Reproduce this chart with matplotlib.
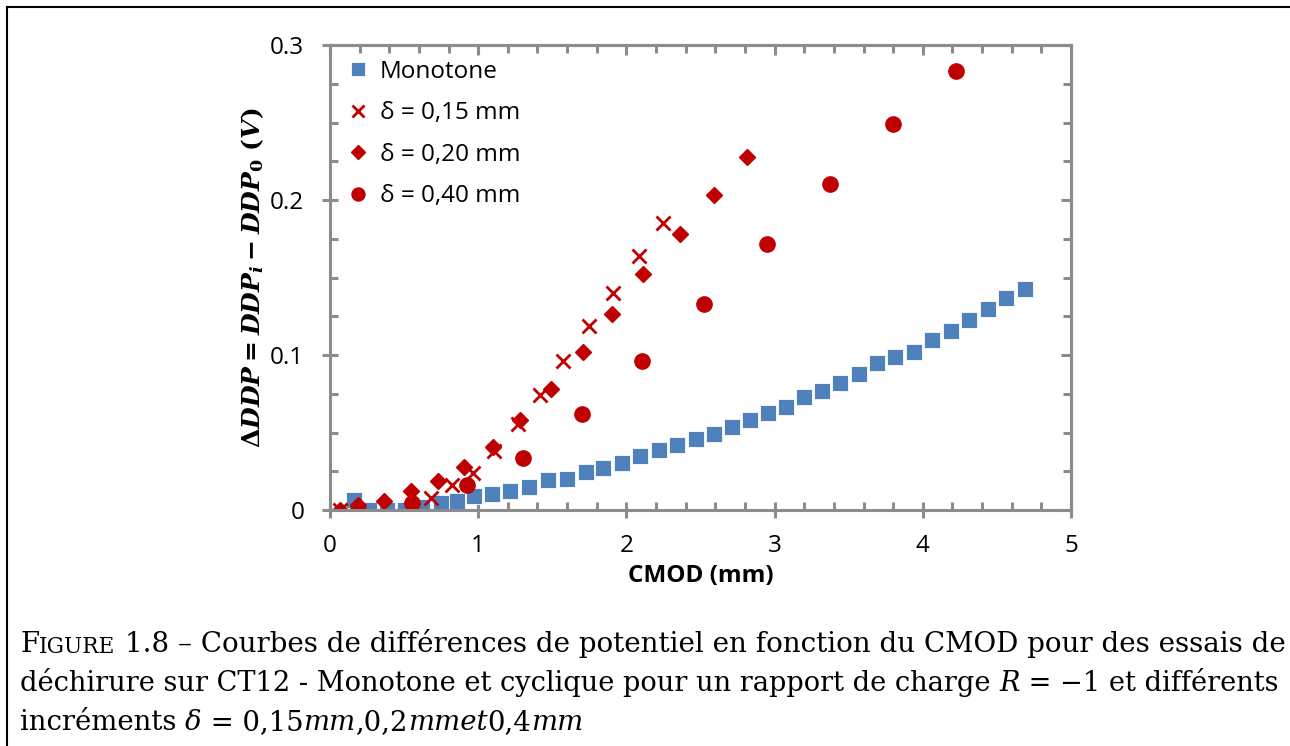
import matplotlib
matplotlib.use("Agg")
import matplotlib.pyplot as plt
from matplotlib.lines import Line2D
from matplotlib.ticker import MultipleLocator, FuncFormatter

# data (CMOD in mm, delta DDP in V)
mono_x = [0.164, 0.265, 0.387, 0.506, 0.623, 0.747, 0.855, 0.974, 1.093, 1.215,
          1.34, 1.473, 1.597, 1.725, 1.84, 1.968, 2.092, 2.218, 2.344, 2.468,
          2.591, 2.713, 2.834, 2.953, 3.075, 3.196, 3.318, 3.441, 3.57, 3.693,
          3.815, 3.938, 4.064, 4.188, 4.314, 4.438, 4.564, 4.69]
mono_y = [0.0065, 0.0, 0.0, 0.0, 0.002, 0.0043, 0.0058, 0.009, 0.0103, 0.012,
          0.015, 0.0194, 0.0202, 0.0247, 0.0269, 0.0305, 0.035, 0.0387, 0.042, 0.0456,
          0.0488, 0.0533, 0.058, 0.0624, 0.0667, 0.0727, 0.077, 0.0821, 0.0877, 0.0946,
          0.0989, 0.1021, 0.1097, 0.1155, 0.1226, 0.1299, 0.1366, 0.1424]

d15_x = [0.07, 0.544, 0.682, 0.821, 0.963, 1.107, 1.266, 1.417, 1.575, 1.745, 1.907, 2.085, 2.245]
d15_y = [0.0, 0.0005, 0.0075, 0.016, 0.0237, 0.0383, 0.0555, 0.0742, 0.0961, 0.1189, 0.1402, 0.1639, 0.1854]

d20_x = [0.07, 0.19, 0.364, 0.547, 0.731, 0.907, 1.098, 1.282, 1.491, 1.705, 1.905, 2.11, 2.362, 2.591, 2.816]
d20_y = [0.0, 0.003, 0.006, 0.0122, 0.0185, 0.0275, 0.0409, 0.058, 0.078, 0.1017, 0.1265, 0.152, 0.178, 0.2032, 0.228]

d40_x = [0.189, 0.551, 0.922, 1.305, 1.698, 2.105, 2.524, 2.946, 3.374, 3.797, 4.222]
d40_y = [0.0003, 0.0043, 0.016, 0.0333, 0.062, 0.0961, 0.1327, 0.1714, 0.2101, 0.249, 0.2834]

labels = ["Monotone", "δ = 0,15 mm", "δ = 0,20 mm", "δ = 0,40 mm"]

BLUE = "#4F81BD"
RED = "#C00000"
GREY = "#8C8C8C"

plt.rcParams["font.family"] = ["Open Sans", "DejaVu Sans"]
plt.rcParams["mathtext.fontset"] = "custom"
plt.rcParams["mathtext.rm"] = "DejaVu Serif:bold"
plt.rcParams["mathtext.it"] = "DejaVu Serif:bold:italic"
plt.rcParams["mathtext.bf"] = "DejaVu Serif:bold"

fig = plt.figure(figsize=(12.9, 7.46), dpi=100)
ax = fig.add_axes([330 / 1290, 1 - 510 / 746, 741 / 1290, 465 / 746])

ax.plot(mono_x, mono_y, ls="none", marker="s", ms=12, color=BLUE, mec="white", mew=0.6, label=labels[0])
ax.plot(d15_x, d15_y, ls="none", marker="x", ms=10, mew=2, color=RED, label=labels[1])
ax.plot(d20_x, d20_y, ls="none", marker="D", ms=8.5, color=RED, label=labels[2])
ax.plot(d40_x, d40_y, ls="none", marker="o", ms=11, color=RED, label=labels[3])

ax.set_xlim(0, 5)
ax.set_ylim(0, 0.3)
ax.xaxis.set_major_locator(MultipleLocator(1))
ax.xaxis.set_minor_locator(MultipleLocator(0.2))
ax.yaxis.set_major_locator(MultipleLocator(0.1))
ax.yaxis.set_minor_locator(MultipleLocator(0.025))
ax.yaxis.set_major_formatter(FuncFormatter(lambda v, p: "0" if abs(v) < 1e-9 else "%.1f" % v))
ax.xaxis.set_major_formatter(FuncFormatter(lambda v, p: "%d" % round(v)))

for s in ax.spines.values():
    s.set_color(GREY)
    s.set_linewidth(2.2)
ax.tick_params(which="major", direction="inout", length=11, width=2.2, color=GREY,
               labelsize=17.5)
ax.tick_params(axis="x", which="major", pad=12)
ax.tick_params(axis="y", which="major", pad=13)
ax.tick_params(which="minor", direction="in", length=6, width=2.2, color=GREY)

# top/right: inward ticks only
for side in ("top", "right"):
    sec = ax.secondary_xaxis("top") if side == "top" else ax.secondary_yaxis("right")
    axis = sec.xaxis if side == "top" else sec.yaxis
    axis.set_major_locator(MultipleLocator(1 if side == "top" else 0.1))
    axis.set_minor_locator(MultipleLocator(0.2 if side == "top" else 0.025))
    sec.tick_params(which="both", direction="in", length=6, width=2.2, color=GREY, labelsize=0)
    sec.tick_params(which="major", length=7)
    axis.set_ticklabels([])
    sec.spines[side].set_color(GREY)
    sec.spines[side].set_linewidth(2.2)

ax.set_xlabel("CMOD (mm)", fontsize=17.5, fontweight="bold", labelpad=4)
ax.set_ylabel(r"$\Delta DDP = DDP_i - DDP_0\ (V)$", fontsize=18, labelpad=3)

leg = ax.legend(loc="upper left", fontsize=17.5, frameon=False, handletextpad=0.35,
                labelspacing=0.72, borderaxespad=0.2, handlelength=1.1, markerscale=0.85)

# frame around the figure (left and top edges visible)
fig.add_artist(Line2D([7 / 1290, 7 / 1290], [0, 1 - 7 / 746], color="black", lw=1.5))
fig.add_artist(Line2D([7 / 1290, 1], [1 - 7 / 746, 1 - 7 / 746], color="black", lw=1.5))

# caption, built piece by piece (small caps + italic bits); sizes tuned per line
# so that the justified lines end near the same right edge
CAP = ["DejaVu Serif"]
cs1, cs2, cs3 = 19.95, 19.62, 19.8


def chain(pieces, x, y):
    prev = None
    for txt, size, style in pieces:
        if prev is None:
            prev = fig.text(x, y, txt, fontsize=size, style=style, family=CAP,
                            va="baseline", ha="left")
        else:
            prev = ax.annotate(txt, xy=(1, 0), xycoords=prev, va="bottom", ha="left",
                               fontsize=size, style=style, family=CAP, annotation_clip=False)
    return prev


chain([("F", cs1, "normal"), ("IGURE", cs1 * 0.78, "normal"),
       (" 1.8 – Courbes de différences de potentiel en fonction du CMOD pour des essais de", cs1, "normal")],
      20 / 1290, 1 - 652 / 746)
chain([("déchirure sur CT12 - Monotone et cyclique pour un rapport de charge ", cs2, "normal"),
       ("R", cs2, "italic"), (" = −1 et différents", cs2, "normal")],
      20 / 1290, 1 - 691 / 746)
chain([("incréments ", cs3, "normal"), ("δ", cs3, "italic"), (" = 0,15", cs3, "normal"),
       ("mm", cs3, "italic"), (",0,2", cs3, "normal"), ("mmet", cs3, "italic"),
       ("0,4", cs3, "normal"), ("mm", cs3, "italic")],
      20 / 1290, 1 - 730 / 746)

fig.savefig("out.png", dpi=100)
